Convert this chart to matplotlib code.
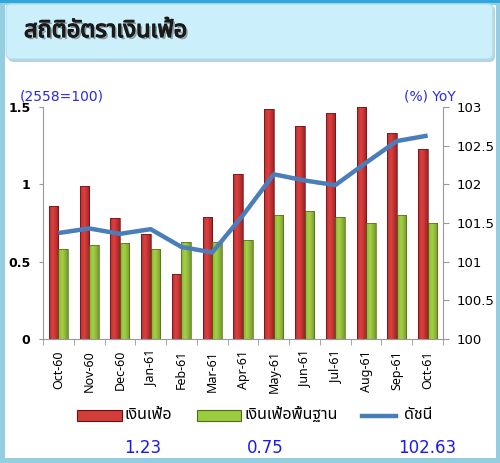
import numpy as np
import matplotlib
matplotlib.use("Agg")
import matplotlib.pyplot as plt
from matplotlib import font_manager as fm
from matplotlib.ft2font import FT2Font
from matplotlib.patches import Rectangle, FancyBboxPatch
from matplotlib.lines import Line2D
import matplotlib.patheffects as pe

# ---------------- data ----------------
months = ["Oct-60", "Nov-60", "Dec-60", "Jan-61", "Feb-61", "Mar-61", "Apr-61",
          "May-61", "Jun-61", "Jul-61", "Aug-61", "Sep-61", "Oct-61"]
headline = [0.86, 0.99, 0.78, 0.68, 0.42, 0.79, 1.07, 1.49, 1.38, 1.46, 1.50, 1.33, 1.23]
core = [0.58, 0.61, 0.62, 0.58, 0.63, 0.63, 0.64, 0.80, 0.83, 0.79, 0.75, 0.80, 0.75]
cpi_index = [101.37, 101.43, 101.36, 101.42, 101.19, 101.12, 101.60, 102.13, 102.05,
             101.99, 102.28, 102.56, 102.63]
left_ticks = [0, 0.5, 1, 1.5]
left_labels = ["0", "0.5", "1", "1.5"]
right_ticks = [100, 100.5, 101, 101.5, 102, 102.5, 103]
right_labels = ["100", "100.5", "101", "101.5", "102", "102.5", "103"]
title = "สถิติอัตราเงินเฟ้อ"
series_names = ["เงินเฟ้อ", "เงินเฟ้อพื้นฐาน", "ดัชนี"]
latest_values = ["1.23", "0.75", "102.63"]

# ---------------- fonts ----------------
def has_thai(path):
    try:
        f = FT2Font(path)
        cm = f.get_charmap()
        return 0x0E40 in cm and 0x0E07 in cm
    except Exception:
        return False

thai = []
for fe in fm.fontManager.ttflist:
    if fe.name not in thai and has_thai(fe.fname):
        thai.append(fe.name)
pref = ["Tahoma", "Noto Sans Thai", "Noto Sans Thai UI", "Loma", "Garuda", "Sarabun"]
thai_sorted = [p for p in pref if p in thai] + [t for t in thai if t not in pref]
fam = thai_sorted[:1] + ["DejaVu Sans"]
plt.rcParams["font.family"] = fam

W, H = 500, 463
fig = plt.figure(figsize=(5.0, 4.63), dpi=100)
fig.patch.set_facecolor("#93cfe0")

def fx(x):
    return x / W

def fy(y):
    return 1 - y / H

# white panel
fig.add_artist(Rectangle((fx(5), fy(458)), fx(491), 453 / H, transform=fig.transFigure,
                         facecolor="white", edgecolor="none", zorder=0))
# top strip
fig.add_artist(Rectangle((0, fy(3)), 1, 3 / H, transform=fig.transFigure,
                         facecolor="#2ea7dc", edgecolor="none", zorder=0))
# header shadow + box
fig.add_artist(FancyBboxPatch((fx(8), fy(62)), fx(487), 57 / H,
                              boxstyle="round,pad=0,rounding_size=0.012",
                              transform=fig.transFigure, facecolor="#7fb9cf",
                              edgecolor="none", zorder=1, alpha=0.6))
fig.add_artist(FancyBboxPatch((fx(6), fy(59)), fx(487), 55 / H,
                              boxstyle="round,pad=0,rounding_size=0.012",
                              transform=fig.transFigure, facecolor="#ccf0fb",
                              edgecolor="#b5dcea", linewidth=0.8, zorder=2))
fig.text(fx(24), fy(31), title, fontsize=17, fontweight="bold", color="#1a1a1a",
         va="center", ha="left", zorder=3,
         path_effects=[pe.withSimplePatchShadow(offset=(1.5, -1.5), shadow_rgbFace="#666666", alpha=0.6),
                       pe.Stroke(linewidth=0.9, foreground="#1a1a1a"), pe.Normal()])

# ---------------- axes ----------------
ax = fig.add_axes([fx(43), fy(339), fx(400), 232 / H])
ax.set_zorder(5)
ax.patch.set_alpha(0)
x = np.arange(len(months))
w = 0.31

red_bars = ax.bar(x - w / 2, headline, width=w, color="#c8302e", edgecolor="#6e1010",
                  linewidth=0.5, zorder=2)
green_bars = ax.bar(x + w / 2, core, width=w, color="#8fbf35", edgecolor="#4d6b14",
                    linewidth=0.5, zorder=2)

# gradient shading on bars
def shade(bars, c_edge, c_mid):
    c_edge = np.array(matplotlib.colors.to_rgb(c_edge))
    c_mid = np.array(matplotlib.colors.to_rgb(c_mid))
    t = np.linspace(0, 1, 32)
    prof = np.clip(1 - np.abs(t - 0.4) / 0.7, 0, 1) ** 0.6
    img = c_edge[None, :] * (1 - prof[:, None]) + c_mid[None, :] * prof[:, None]
    img = img[None, :, :]
    for b in bars:
        x0, y0 = b.get_x(), b.get_y()
        bw, bh = b.get_width(), b.get_height()
        im = ax.imshow(img, extent=(x0, x0 + bw, y0, y0 + bh), aspect="auto",
                       zorder=2.5, interpolation="bilinear")
        im.set_clip_path(b)

shade(red_bars, "#7a1212", "#dc4040")
shade(green_bars, "#5a7d16", "#a5d048")
for b in list(red_bars) + list(green_bars):
    b.set_facecolor("none")
    b.set_zorder(3)

ax.set_xlim(-0.5, len(months) - 0.5)
ax.set_ylim(0, 1.5)
ax.set_yticks(left_ticks)
ax.set_yticklabels(left_labels, fontsize=9, fontweight="bold", family="DejaVu Sans")
ax.set_xticks(x)
ax.set_xticklabels(months, rotation=90, fontsize=9)
ax.set_xticks(np.arange(-0.5, len(months), 1), minor=True)
ax.tick_params(axis="x", which="major", length=0, pad=8)
ax.tick_params(axis="x", which="minor", length=4, color="#999999")
ax.tick_params(axis="y", length=3, color="#999999", pad=6)
for s in ["top", "right"]:
    ax.spines[s].set_visible(False)
for s in ["left", "bottom"]:
    ax.spines[s].set_color("#999999")

ax2 = ax.twinx()
ax2.set_ylim(100, 103)
ax2.plot(x, cpi_index, color="#4a7ebb", linewidth=3.2, zorder=4, solid_capstyle="butt")
ax2.set_yticks(right_ticks)
ax2.set_yticklabels(right_labels, fontsize=9.5, family="DejaVu Sans")
ax2.tick_params(axis="y", length=4, color="#999999", pad=6)
for s in ["top", "left", "bottom"]:
    ax2.spines[s].set_visible(False)
ax2.spines["right"].set_color("#999999")
ax2.set_zorder(6)
ax2.patch.set_alpha(0)

fig.text(fx(20), fy(97), "(2558=100)", fontsize=10, color="#2a2ae0", va="center",
         ha="left", family="DejaVu Sans")
fig.text(fx(404), fy(97), "(%) YoY", fontsize=10, color="#2a2ae0", va="center",
         ha="left", family="DejaVu Sans")

# ---------------- legend ----------------
ly = 415
fig.add_artist(Rectangle((fx(77), fy(421)), fx(45), 11 / H, transform=fig.transFigure,
                         facecolor="#d23c3a", edgecolor="#6e1010", linewidth=0.8))
fig.text(fx(125), fy(ly), series_names[0], fontsize=11.5, va="center", ha="left")
fig.add_artist(Rectangle((fx(197), fy(421)), fx(44), 11 / H, transform=fig.transFigure,
                         facecolor="#9ccb3f", edgecolor="#4d6b14", linewidth=0.8))
fig.text(fx(244), fy(ly), series_names[1], fontsize=11.5, va="center", ha="left")
fig.add_artist(Line2D([fx(362), fx(396)], [fy(ly + 1), fy(ly + 1)], transform=fig.transFigure,
                      color="#4a7ebb", linewidth=3.2))
fig.text(fx(404), fy(ly), series_names[2], fontsize=11.5, va="center", ha="left")

for xv, s in zip([143, 265, 427], latest_values):
    fig.text(fx(xv), fy(448), s, fontsize=12, color="#1a1aee", va="center", ha="center",
             family="DejaVu Sans")

fig.savefig("out.png", dpi=100)
